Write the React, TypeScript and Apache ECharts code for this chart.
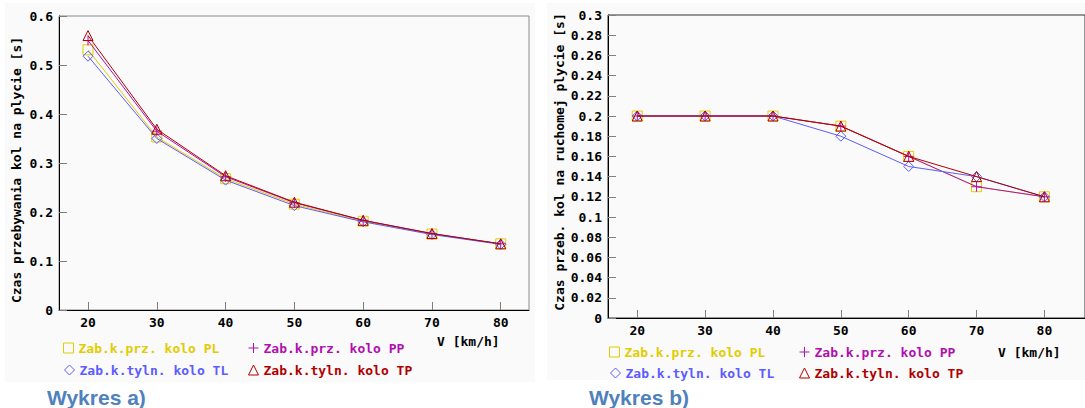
import { useEffect, useRef } from "react";
import * as echarts from "echarts";

// ---- data ----
const speeds = [20, 30, 40, 50, 60, 70, 80];
const xTicks = [20, 30, 40, 50, 60, 70, 80];
const seriesNames = [
  "Zab.k.prz. kolo PL",
  "Zab.k.prz. kolo PP",
  "Zab.k.tyln. kolo TL",
  "Zab.k.tyln. kolo TP",
];
// Wykres a) – time on plate [s]
const aPL = [0.531, 0.353, 0.268, 0.216, 0.181, 0.155, 0.135];
const aPP = [0.55, 0.365, 0.272, 0.219, 0.183, 0.156, 0.135];
const aTL = [0.518, 0.35, 0.265, 0.213, 0.18, 0.154, 0.134];
const aTP = [0.56, 0.369, 0.274, 0.22, 0.183, 0.156, 0.135];
// Wykres b) – time on moving plate [s]
const bPL = [0.2, 0.2, 0.2, 0.19, 0.16, 0.13, 0.12];
const bPP = [0.2, 0.2, 0.2, 0.19, 0.16, 0.13, 0.12];
const bTL = [0.2, 0.2, 0.2, 0.18, 0.15, 0.14, 0.12];
const bTP = [0.2, 0.2, 0.2, 0.19, 0.16, 0.14, 0.12];

const colors = ["#e3cc00", "#b010b0", "#5c5cff", "#b00000"];
const PLUS = "path://M5,0L5,10M0,5L10,5";
const symbols = ["rect", PLUS, "diamond", "triangle"];
const MONO = '"DejaVu Sans Mono", monospace';

type Cfg = {
  data: number[][];
  grid: any;
  xMin: number;
  xMax: number;
  yMax: number;
  yInt: number;
  frameColor: string;
  panel: number[];
  yTitle: string;
  yTitlePos: number[];
  vPos: number[];
  caption: string;
  captionPos: number[];
  legendPos: number[][];
};

function buildOption(c: Cfg) {
  const series = c.data.map((vals, i) => ({
    name: seriesNames[i],
    type: "line",
    data: speeds.map((s, k) => [s, vals[k]]),
    symbol: symbols[i],
    symbolSize: 10,
    showSymbol: true,
    lineStyle: { color: colors[i], width: 1 },
    itemStyle: { color: "rgba(0,0,0,0)", borderColor: colors[i], borderWidth: 1 },
    emphasis: { disabled: true },
    z: 2 + i,
  }));
  const legend = c.legendPos.map((p, i) => ({
    left: p[0],
    top: p[1] - 7,
    padding: 0,
    itemWidth: 10,
    itemHeight: 10,
    itemGap: 0,
    selectedMode: false,
    textStyle: { fontFamily: MONO, fontSize: 13, fontWeight: "bold", lineHeight: 14, color: colors[i] },
    data: [
      {
        name: seriesNames[i],
        icon: symbols[i],
        itemStyle: { color: "rgba(0,0,0,0)", borderColor: colors[i], borderWidth: 1 },
        textStyle: { color: colors[i] },
      },
    ],
  }));
  const labelStyle = { fontFamily: MONO, fontSize: 13, fontWeight: "bold", color: "#000" };
  return {
    animation: false,
    grid: { ...c.grid, show: true, borderColor: c.frameColor, borderWidth: 1, backgroundColor: "transparent" },
    xAxis: {
      type: "value",
      min: c.xMin,
      max: c.xMax,
      axisLine: { show: true, onZero: false, lineStyle: { color: "#000", width: 1 } },
      axisTick: { show: true, inside: true, length: 8, customValues: xTicks, lineStyle: { color: "#808080" } },
      axisLabel: { ...labelStyle, customValues: xTicks, margin: 6 },
      splitLine: { show: false },
    },
    yAxis: {
      type: "value",
      min: 0,
      max: c.yMax,
      interval: c.yInt,
      axisLine: { show: true, onZero: false, lineStyle: { color: "#000", width: 1 } },
      axisTick: { show: true, inside: true, length: 8, lineStyle: { color: "#808080" } },
      axisLabel: { ...labelStyle, margin: 6 },
      splitLine: { show: false },
    },
    legend,
    series,
    graphic: [
      {
        type: "rect",
        z: -10,
        silent: true,
        shape: { x: c.panel[0], y: c.panel[1], width: c.panel[2], height: c.panel[3] },
        style: { fill: "#fafafa" },
      },
      {
        type: "text",
        x: c.yTitlePos[0],
        y: c.yTitlePos[1],
        rotation: Math.PI / 2,
        style: {
          text: c.yTitle,
          fontFamily: MONO,
          fontSize: 13,
          fontWeight: "bold",
          fill: "#000",
          align: "center",
          verticalAlign: "middle",
        },
      },
      {
        type: "text",
        x: c.vPos[0],
        y: c.vPos[1],
        style: {
          text: "V [km/h]",
          fontFamily: MONO,
          fontSize: 13,
          fontWeight: "bold",
          fill: "#000",
          align: "left",
          verticalAlign: "middle",
        },
      },
      {
        type: "text",
        x: c.captionPos[0],
        y: c.captionPos[1],
        style: {
          text: c.caption,
          fontFamily: '"Liberation Sans", Arial, sans-serif',
          fontSize: 21,
          fontWeight: "bold",
          fill: "#4f81bd",
          align: "left",
          verticalAlign: "middle",
        },
      },
    ],
  };
}

const cfgA: Cfg = {
  data: [aPL, aPP, aTL, aTP],
  grid: { left: 59, top: 16, width: 470, height: 294 },
  xMin: 15.78,
  xMax: 84.11,
  yMax: 0.6,
  yInt: 0.1,
  frameColor: "#8a8a8a",
  panel: [5, 3, 530, 379],
  yTitle: "Czas przebywania kol na plycie [s]",
  yTitlePos: [16, 170],
  vPos: [437, 341],
  caption: "Wykres a)",
  captionPos: [47, 397],
  legendPos: [
    [63, 348],
    [248, 348],
    [64, 370],
    [248, 370],
  ],
};

const cfgB: Cfg = {
  data: [bPL, bPP, bTL, bTP],
  grid: { left: 68, top: 15, right: -20, height: 303 },
  xMin: 15.69,
  xMax: 85.98,
  yMax: 0.3,
  yInt: 0.02,
  frameColor: "#333333",
  panel: [7, 3, 560, 377],
  yTitle: "Czas przeb. kol na ruchomej plycie [s]",
  yTitlePos: [19, 162],
  vPos: [458, 352],
  caption: "Wykres b)",
  captionPos: [49, 397],
  legendPos: [
    [69, 352],
    [259, 352],
    [70, 373],
    [259, 373],
  ],
};

function Chart({ cfg, left, width }: { cfg: Cfg; left: number; width: number }) {
  const ref = useRef<HTMLDivElement>(null);
  useEffect(() => {
    const chart = echarts.init(ref.current!, undefined, { renderer: "svg" });
    chart.setOption(buildOption(cfg) as any);
    return () => chart.dispose();
  }, [cfg]);
  return <div ref={ref} style={{ position: "absolute", left, top: 0, width, height: 408 }} />;
}

export default function App() {
  return (
    <div
      style={{
        position: "absolute",
        left: 0,
        top: 0,
        width: 1085,
        height: 408,
        background: "#fff",
        overflow: "hidden",
      }}
    >
      <Chart cfg={cfgA} left={0} width={540} />
      <Chart cfg={cfgB} left={540} width={545} />
    </div>
  );
}
